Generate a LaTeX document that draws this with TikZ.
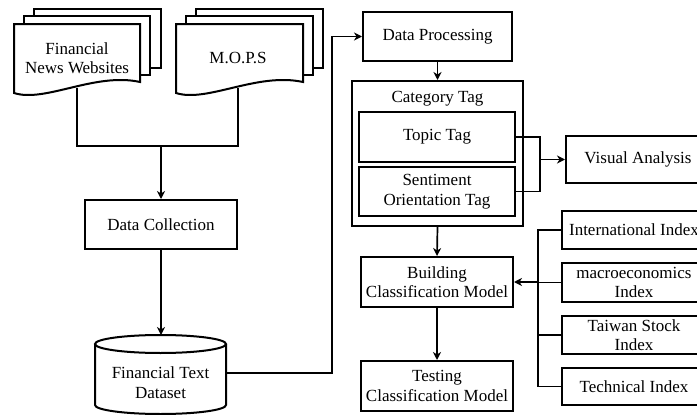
\documentclass[tikz,border=0pt]{standalone}
\usepackage{fontspec}
\setmainfont{Liberation Serif}
\usetikzlibrary{arrows.meta}
\newcommand\diafont{\fontsize{17}{19.5}\selectfont}
\tikzset{
  box/.style={draw, line width=2pt, fill=white, inner sep=0pt, align=center, font=\diafont},
  caption/.style={inner sep=0pt, align=center, font=\diafont},
  page/.style={draw, line width=2pt, fill=white, line join=miter},
  link/.style={line width=1.7pt},
  arr/.style={link, -{Stealth[length=8pt,width=8pt,inset=2.5pt]}},
}
\begin{document}
\begin{tikzpicture}[x=1pt,y=-1pt]
\useasboundingbox (0,0) rectangle (697,415);
\clip (0,0) rectangle (697,415);

% source document stacks
\draw[page] (34,9) rectangle (161,68);
\draw[page] (24,16) rectangle (150,75);
\draw[page] (14,24) -- (140,24) -- (140,82) .. controls (95,72) and (45,103) .. (14,93) -- cycle;
\node[caption] (fnw) at (77,58) {Financial\\News Websites};

\draw[page] (196,9) rectangle (323,68);
\draw[page] (186,16) rectangle (313,75);
\draw[page] (176,24) -- (303,24) -- (303,82) .. controls (257,72) and (207,103) .. (176,93) -- cycle;
\node[caption] (mops) at (238,58) {M.O.P.S};

\coordinate (fnwout) at (77,87.5);
\coordinate (mopsout) at (238,87.5);
\coordinate (fnwb) at (77,146);
\coordinate (mopsb) at (238,146);
\coordinate (join) at (161,146);

% collection and dataset
\node[box, minimum width=152pt, minimum height=49pt] (dc) at (161,224.5) {Data Collection};

\draw[line width=2pt, fill=white] (95,344) -- (95,405) arc[start angle=180, end angle=0, x radius=65.5, y radius=9] -- (226,344);
\draw[line width=2pt] (160.5,344) ellipse [x radius=65.5, y radius=9];
\node[caption] (ftd) at (160.5,382.5) {Financial Text\\Dataset};
\coordinate (ftdtop) at (160.5,335);
\coordinate (ftdout) at (226,373);
\coordinate (bend) at (332,373);

% processing and tagging
\node[box, minimum width=149pt, minimum height=49pt] (dp) at (437.5,36.5) {Data Processing};
\node[box, minimum width=171pt, minimum height=145pt] (cat) at (437.5,153.5) {};
\node[caption] (cattitle) at (437.5,99) {Category Tag};
\node[box, minimum width=156pt, minimum height=50pt] (topic) at (437,137) {Topic Tag};
\node[box, minimum width=156pt, minimum height=49pt] (senti) at (437,191.5) {Sentiment\\Orientation Tag};
\node[box, minimum width=144pt, minimum height=47pt] (va) at (638,159.5) {Visual Analysis};

% model
\node[box, minimum width=152pt, minimum height=50pt] (build) at (437,282) {Building\\Classification Model};
\node[box, minimum width=152pt, minimum height=50pt] (test) at (437,386) {Testing\\Classification Model};

% indices
\node[box, minimum width=144pt, minimum height=38pt] (intl) at (634,230) {International Index};
\node[box, minimum width=144pt, minimum height=39pt] (macro) at (634,282.5) {macroeconomics\\Index};
\node[box, minimum width=144pt, minimum height=38pt] (taiwan) at (634,335) {Taiwan Stock\\Index};
\node[box, minimum width=144pt, minimum height=37pt] (tech) at (634,386.5) {Technical Index};
\coordinate (bus) at (538,0);
\coordinate (tagbus) at (540,0);

% connectors
\draw[link] (fnwout) -- (fnwb) -- (mopsb) -- (mopsout);
\draw[arr] (join) -- (dc.north);
\draw[arr] (dc.south) -- (dc.south |- ftdtop);
\draw[arr] (ftdout) -- (bend) |- (dp.west);
\draw[arr] (dp.south) -- (cat.north);
\draw[link] (topic.east) -| (tagbus |- senti.east) -- (senti.east);
\draw[arr] (va.west -| tagbus) -- (va.west);
\draw[arr] (cat.south) -- (build.north);
\draw[arr] (build.south) -- (test.north);
\draw[link] (intl.west) -| (bus |- tech.west) -- (tech.west);
\draw[link] (macro.west) -- (macro.west -| bus);
\draw[link] (taiwan.west) -- (taiwan.west -| bus);
\draw[arr] (build.east -| bus) -- (build.east);
\end{tikzpicture}
\end{document}
